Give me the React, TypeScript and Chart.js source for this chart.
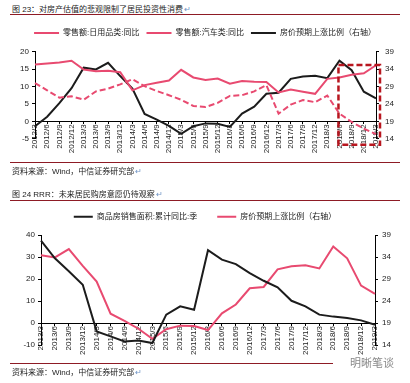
import React, { useEffect, useRef } from 'react';
import { Chart, registerables } from 'chart.js';
Chart.register(...registerables);

// ---------- data ----------
const quarters1 = [
  '2012/3', '2012/6', '2012/9', '2012/12',
  '2013/3', '2013/6', '2013/9', '2013/12',
  '2014/3', '2014/6', '2014/9', '2014/12',
  '2015/3', '2015/6', '2015/9', '2015/12',
  '2016/3', '2016/6', '2016/9', '2016/12',
  '2017/3', '2017/6', '2017/9', '2017/12',
  '2018/3', '2018/6', '2018/9', '2018/12',
  '2019/3',
];
const dailyGoodsYoY = [
  16.3, 16.6, 16.9, 17.4, 14.9, 14.4, 14.5, 14.1, 8.9, 10.4, 11.1, 11.7, 14.8, 12.6,
  11.9, 12.3, 10.8, 11.6, 11.4, 11.3, 8.3, 9.1, 8.5, 7.9, 12.2, 12.6, 13.4, 13.8, 16.1,
];
const autoYoY = [
  11.0, 8.9, 6.8, 7.2, 6.2, 8.6, 9.4, 10.6, 12.1, 10.1, 8.7, 7.5, 6.2, 4.4,
  4.1, 5.3, 7.3, 7.5, 8.6, 10.4, 2.2, 4.8, 6.1, 5.5, 7.4, 2.2, -0.2, -2.1, -3.7,
];
const priceExpect1 = [
  17.6, 20.3, 24.2, 28.5, 34.4, 33.9, 35.8, 32.0, 28.4, 21.1, 19.5, 17.7, 15.4, 17.6,
  18.4, 18.3, 17.4, 21.2, 23.2, 26.9, 27.2, 31.2, 31.9, 32.1, 31.4, 36.4, 33.7, 27.5, 25.6,
];

const quarters2 = [
  '2013/3', '2013/6', '2013/9', '2013/12',
  '2014/3', '2014/6', '2014/9', '2014/12',
  '2015/3', '2015/6', '2015/9', '2015/12',
  '2016/3', '2016/6', '2016/9', '2016/12',
  '2017/3', '2017/6', '2017/9', '2017/12',
  '2018/3', '2018/6', '2018/9', '2018/12',
  '2019/3',
];
const salesAreaYoY = [
  37.4, 29.4, 23.5, 17.4, -3.8, -6.1, -8.4, -8.0, -9.1, 3.8, 7.6, 6.0,
  33.1, 28.8, 26.8, 22.7, 19.2, 16.2, 10.1, 7.6, 3.8, 2.9, 2.3, 1.2, -0.8,
];
const priceExpect2 = [
  34.4, 33.9, 35.8, 32.0, 28.4, 21.1, 19.5, 17.7, 15.4, 17.6, 18.4, 18.3,
  17.4, 21.2, 23.2, 26.9, 27.2, 31.2, 31.9, 32.1, 31.4, 36.4, 33.7, 27.5, 25.6,
];

const highlightFrom = '2018/6';
const highlightTopValue = 35.2;

// ---------- styles ----------
const FONT = "'Liberation Sans', 'Noto Sans CJK SC', sans-serif";
const PINK = '#e84a70';
const BLACK = '#1c1c1c';
const DARKRED = '#8e1b25';
const BOXRED = '#b8161f';
const TEXT = '#222';

const axisY = (pos: 'left' | 'right', min: number, max: number, width: number, pad: number) => ({
  position: pos,
  min,
  max,
  border: { display: true, color: '#000', width: 1 },
  grid: { drawOnChartArea: false, drawTicks: true, tickLength: 3, color: '#000' },
  ticks: { stepSize: 5, padding: pad, color: TEXT, font: { family: FONT, size: 8 } },
  afterFit: (s: any) => { s.width = width; },
});

const axisX = () => ({
  position: { y: 0 },
  offset: false,
  border: { display: true, color: '#000', width: 1 },
  grid: { drawOnChartArea: false, drawTicks: true, tickLength: 2, color: '#000' },
  ticks: { autoSkip: false, maxRotation: 90, minRotation: 90, padding: 1, color: TEXT, font: { family: FONT, size: 8 } },
});

const boxPlugin = {
  id: 'highlightBox',
  afterDatasetsDraw(chart: any) {
    const { ctx, chartArea, scales } = chart;
    const left = scales.x.getPixelForValue(quarters1.indexOf(highlightFrom)) - 1;
    const right = chartArea.right + 4;
    const top = scales.y1.getPixelForValue(highlightTopValue);
    const bottom = chartArea.bottom + 6;
    ctx.save();
    ctx.strokeStyle = BOXRED;
    ctx.lineWidth = 2.5;
    ctx.setLineDash([6, 3]);
    ctx.strokeRect(left, top, right - left, bottom - top);
    ctx.restore();
  },
};

function legendOpts(width: number, padding: number) {
  return {
    position: 'top' as const,
    weight: 3000,
    labels: {
      usePointStyle: true,
      pointStyle: 'line',
      pointStyleWidth: width,
      boxHeight: 8,
      padding,
      color: TEXT,
      font: { family: FONT, size: 8 },
    },
  };
}

function T({ x, cy, size = 8, color = TEXT, children }: any) {
  return (
    <div style={{ position: 'absolute', left: x, top: cy - 7, lineHeight: '14px', fontSize: size, color, whiteSpace: 'nowrap', fontFamily: FONT }}>
      {children}
    </div>
  );
}
function Rule({ x1, x2, y }: any) {
  return <div style={{ position: 'absolute', left: x1, top: y, width: x2 - x1, height: 1, background: DARKRED }} />;
}
const Mark = () => <span style={{ color: '#6f93c4', marginLeft: 1 }}>↵</span>;

export default function App() {
  const c1 = useRef<HTMLCanvasElement>(null);
  const c2 = useRef<HTMLCanvasElement>(null);

  useEffect(() => {
    const ch1 = new Chart(c1.current!, {
      type: 'line',
      data: {
        labels: quarters1,
        datasets: [
          { label: '零售额:日用品类:同比', data: dailyGoodsYoY, borderColor: PINK, backgroundColor: PINK, borderWidth: 2, pointRadius: 0, yAxisID: 'y' },
          { label: '零售额:汽车类:同比', data: autoYoY, borderColor: PINK, backgroundColor: PINK, borderWidth: 2, borderDash: [6, 3], pointRadius: 0, yAxisID: 'y' },
          { label: '房价预期上涨比例（右轴）', data: priceExpect1, borderColor: BLACK, backgroundColor: BLACK, borderWidth: 2, pointRadius: 0, yAxisID: 'y1' },
        ],
      },
      options: {
        responsive: false,
        animation: false,
        layout: { padding: { top: 2, bottom: 26.3, left: 0, right: 0 } },
        plugins: {
          legend: legendOpts(25, 7) as any,
          subtitle: { display: true, text: '', padding: { top: 3.5, bottom: 0 }, font: { size: 1 } },
          tooltip: { enabled: false },
        },
        scales: {
          x: axisX() as any,
          y: axisY('left', -5, 20, 35, 3) as any,
          y1: axisY('right', 14, 39, 34, 6) as any,
        },
      },
      plugins: [boxPlugin],
    });

    const ch2 = new Chart(c2.current!, {
      type: 'line',
      data: {
        labels: quarters2,
        datasets: [
          { label: '商品房销售面积:累计同比:季', data: salesAreaYoY, borderColor: BLACK, backgroundColor: BLACK, borderWidth: 2, pointRadius: 0, yAxisID: 'y' },
          { label: '房价预期上涨比例（右轴）', data: priceExpect2, borderColor: PINK, backgroundColor: PINK, borderWidth: 2, pointRadius: 0, yAxisID: 'y1' },
        ],
      },
      options: {
        responsive: false,
        animation: false,
        layout: { padding: { top: 2.7, bottom: 13, left: 0, right: 0 } },
        plugins: {
          legend: legendOpts(19, 20) as any,
          subtitle: { display: true, text: '', padding: { top: 3.1, bottom: 0 }, font: { size: 1 } },
          tooltip: { enabled: false },
        },
        scales: {
          x: axisX() as any,
          y: axisY('left', -10, 40, 41, 3) as any,
          y1: axisY('right', 14, 39, 35, 4) as any,
        },
      },
    });

    return () => { ch1.destroy(); ch2.destroy(); };
  }, []);

  return (
    <div style={{ position: 'fixed', left: 0, top: 0, width: 410, height: 383, background: '#fff', overflow: 'hidden', fontFamily: FONT }}>
      <canvas ref={c1} width={410} height={145} style={{ position: 'absolute', left: 0, top: 20 }} />
      <canvas ref={c2} width={410} height={168} style={{ position: 'absolute', left: 0, top: 190 }} />

      <T x={12} cy={10}>图 23：对房产估值的悲观限制了居民投资性消费<Mark /></T>
      <Rule x1={10} x2={400} y={14} />
      <Rule x1={10} x2={400} y={162} />
      <T x={12} cy={172}>资料来源：Wind，中信证券研究部<Mark /></T>
      <T x={12} cy={195}>图 24 RRR：未来居民购房意愿仍待观察<Mark /></T>
      <Rule x1={10} x2={400} y={200} />
      <Rule x1={10} x2={333} y={363} />
      <T x={12} cy={373}>资料来源：Wind，中信证券研究部<Mark /></T>
      <T x={350} cy={363} size={11} color="#8a8a8a">明晰笔谈</T>
    </div>
  );
}
